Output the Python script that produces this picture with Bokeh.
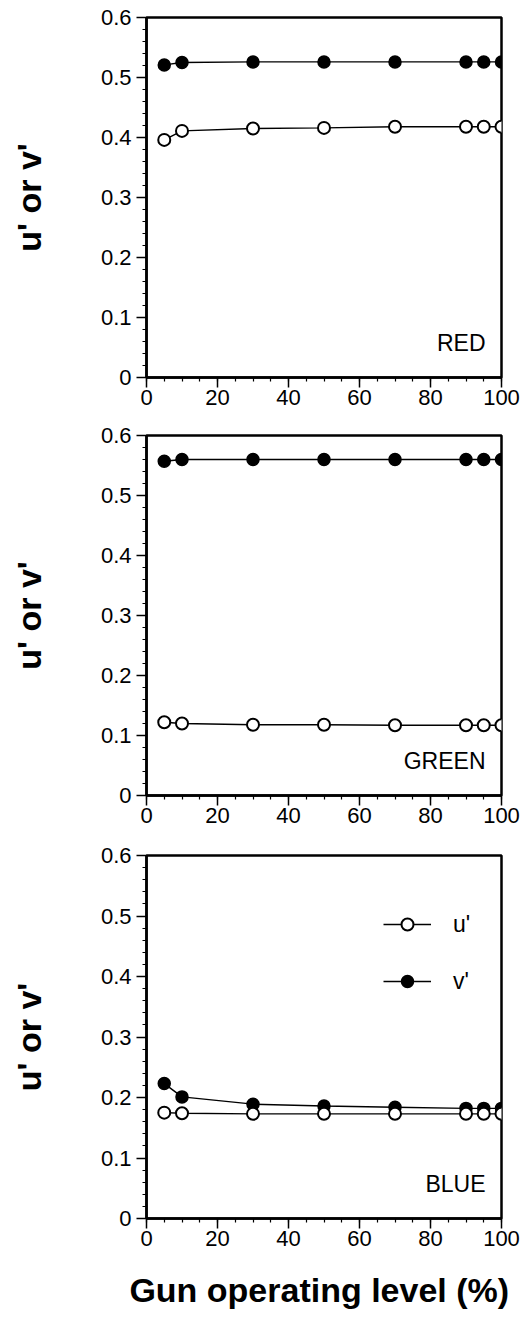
from bokeh.plotting import figure
from bokeh.models import FixedTicker, Label, Legend, LegendItem, Range1d
from bokeh.layouts import column
from bokeh.embed import file_html
from bokeh.resources import INLINE

# ---- data ----
x_level = [5, 10, 30, 50, 70, 90, 95, 100]

red_u = [0.396, 0.411, 0.415, 0.416, 0.418, 0.418, 0.418, 0.418]
red_v = [0.521, 0.525, 0.526, 0.526, 0.526, 0.526, 0.526, 0.526]

green_u = [0.122, 0.120, 0.118, 0.118, 0.117, 0.117, 0.117, 0.117]
green_v = [0.557, 0.560, 0.560, 0.560, 0.560, 0.560, 0.560, 0.560]

blue_u = [0.175, 0.174, 0.173, 0.173, 0.173, 0.173, 0.173, 0.173]
blue_v = [0.223, 0.201, 0.189, 0.186, 0.184, 0.182, 0.182, 0.182]

panel_names = ["RED", "GREEN", "BLUE"]
series_names = ["u'", "v'"]

x_ticks = [0, 20, 40, 60, 80, 100]
x_minor_ticks = [0, 5, 10, 15, 20, 25, 30, 35, 40, 45, 50, 55, 60, 65, 70, 75, 80, 85, 90, 95, 100]
y_ticks = [0.0, 0.1, 0.2, 0.3, 0.4, 0.5, 0.6]
y_tick_labels = ["0", "0.1", "0.2", "0.3", "0.4", "0.5", "0.6"]
y_minor_ticks = [i * 0.02 for i in range(31)]

y_title = "u' or v'"
x_title = "Gun operating level  (%)"

FONT = "Liberation Sans"


def make_panel(u, v, name, height, top, bottom, last=False):
    p = figure(width=524, height=height, output_backend="svg", toolbar_location=None,
               x_range=Range1d(0, 100), y_range=Range1d(0, 0.6),
               min_border_left=146, min_border_right=23,
               min_border_top=top, min_border_bottom=bottom)
    p.grid.visible = False
    p.outline_line_color = "black"
    p.outline_line_width = 2.5
    p.background_fill_color = "white"
    p.border_fill_color = "white"

    p.xaxis.ticker = FixedTicker(ticks=x_ticks, minor_ticks=x_minor_ticks)
    p.yaxis.ticker = FixedTicker(ticks=y_ticks, minor_ticks=y_minor_ticks)
    p.yaxis.major_label_overrides = {t: l for t, l in zip(y_ticks, y_tick_labels)}

    for ax in (p.xaxis, p.yaxis):
        ax.axis_line_width = 2.5
        ax.axis_line_color = "black"
        ax.major_tick_line_width = 1.5
        ax.minor_tick_line_width = 1.2
        ax.major_tick_out = 10
        ax.major_tick_in = 0
        ax.minor_tick_out = 4
        ax.minor_tick_in = 0
        ax.major_label_text_font = FONT
        ax.major_label_text_font_size = "22px"
        ax.major_label_text_color = "black"
    p.xaxis.major_label_standoff = 2
    p.yaxis.major_label_standoff = 5

    p.yaxis.axis_label = y_title
    p.yaxis.axis_label_text_font = FONT
    p.yaxis.axis_label_text_font_size = "34px"
    p.yaxis.axis_label_text_font_style = "bold"
    p.yaxis.axis_label_text_color = "black"
    p.yaxis.axis_label_standoff = 50

    if last:
        p.xaxis.axis_label = x_title
        p.xaxis.axis_label_text_font = FONT
        p.xaxis.axis_label_text_font_size = "34px"
        p.xaxis.axis_label_text_font_style = "bold"
        p.xaxis.axis_label_text_color = "black"
        p.xaxis.axis_label_standoff = 22

    lu = p.line(x_level, u, line_color="black", line_width=1.4)
    lv = p.line(x_level, v, line_color="black", line_width=1.4)
    cv = p.scatter(x_level, v, size=12, marker="circle", fill_color="black", line_color="black", line_width=1.5)
    cu = p.scatter(x_level, u, size=12, marker="circle", fill_color="white", line_color="black", line_width=2)

    p.add_layout(Label(x=100, y=0, x_offset=-16, y_offset=22, text=name, text_align="right",
                       text_baseline="bottom", text_font=FONT, text_font_size="23px", text_color="black"))
    return p, (lu, cu, lv, cv)


p1, _ = make_panel(red_u, red_v, panel_names[0], 418, 17, 41)
p2, _ = make_panel(green_u, green_v, panel_names[1], 420, 17, 43)
p3, (lu, cu, lv, cv) = make_panel(blue_u, blue_v, panel_names[2], 482, 17, 102, last=True)

legend = Legend(items=[LegendItem(label=series_names[0], renderers=[lu, cu]),
                       LegendItem(label=series_names[1], renderers=[lv, cv])],
                location=(237, 222), orientation="vertical",
                glyph_width=48, glyph_height=30, label_height=30, spacing=27,
                label_standoff=22, padding=0, margin=0,
                label_text_font=FONT, label_text_font_size="23px", label_text_color="black",
                border_line_alpha=0, background_fill_alpha=0)
p3.add_layout(legend)

layout = column(p1, p2, p3, spacing=0)
open("out.html", "w").write(file_html(layout, INLINE))
